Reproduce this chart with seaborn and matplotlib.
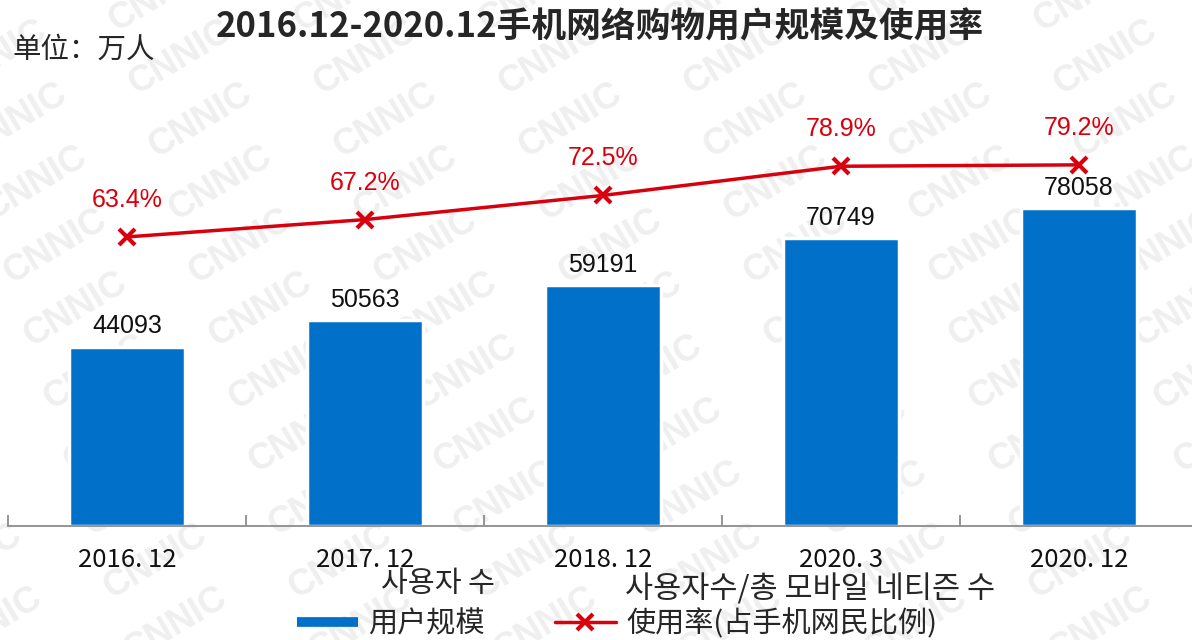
import matplotlib
matplotlib.use('Agg')
import matplotlib.pyplot as plt
import seaborn as sns
import numpy as np
import pandas as pd
from matplotlib.lines import Line2D
from matplotlib import patheffects as pe

categories = ['2016. 12', '2017. 12', '2018. 12', '2020. 3', '2020. 12']
users = [44093, 50563, 59191, 70749, 78058]
rates = [63.4, 67.2, 72.5, 78.9, 79.2]

title = '2016.12-2020.12手机网络购物用户规模及使用率'
unit_label = '单位：万人'
legend_bar = '用户规模'
legend_line = '使用率(占手机网民比例)'
kr_bar = '사용자 수'
kr_line = '사용자수/총 모바일 네티즌 수'
watermark = 'CNNIC'

sns.set_theme(style='white')
plt.rcParams['font.family'] = ['Noto Sans CJK SC', 'DejaVu Sans']

BLUE = '#0070C8'
RED = '#D9000D'

W, H = 1192, 640
fig = plt.figure(figsize=(W / 100, H / 100), dpi=100)

# faint background watermark tiled over the whole figure
for row in range(-3, 10):
    for k in range(-2, 8):
        cx = 200 + 20 * row + 185 * k
        cy = 120 + 63 * row
        if -40 <= cx <= W + 40 and -25 <= cy <= H + 25:
            fig.text(cx / W, 1 - cy / H, watermark, rotation=31,
                     ha='center', va='center', fontsize=26, fontweight='bold',
                     family=['Liberation Sans'], color='#efefef', zorder=-5)

ax = fig.add_axes([8/W, (H-526)/H, 1190/W, 466/H])
ax.patch.set_visible(False)
df = pd.DataFrame({'cat': categories, 'users': users, 'rate': rates})
sns.barplot(data=df, x='cat', y='users', color=BLUE, width=0.49, saturation=1,
            ax=ax, edgecolor='white', linewidth=2.5)
for p in ax.patches:
    p.set_path_effects([pe.SimplePatchShadow(offset=(1.5, -1.5), shadow_rgbFace='#999999', alpha=0.5), pe.Normal()])

ax.set_xlim(-0.5, 4.5)
ax.set_ylim(0, 114500)
for s in ['top', 'right', 'left']:
    ax.spines[s].set_visible(False)
ax.spines['bottom'].set_color('#8c8c8c')
ax.spines['bottom'].set_linewidth(1.3)
ax.set_yticks([])
ax.set_xticks(np.arange(-0.5, 5, 1), minor=True)
ax.tick_params(axis='x', which='both', bottom=True)
ax.tick_params(axis='x', which='major', length=0, pad=15, labelsize=18.5, labelcolor='#111111')
ax.tick_params(axis='x', which='minor', length=8, width=1.3, direction='in', color='#8c8c8c')
ax.set_xlabel('')
ax.set_ylabel('')

for i, v in enumerate(users):
    ax.text(i, v + 5000, f'{v}', ha='center', va='center', fontsize=18,
            family=['Liberation Sans'], color='#111111')

ax2 = ax.twinx()
ax2.patch.set_visible(False)
sns.lineplot(x=np.arange(len(rates)), y=rates, ax=ax2, color=RED, lw=2.5,
             marker='x', markersize=12, markeredgewidth=3, markeredgecolor=RED)
ax2.set_ylim(0, 102.2)
ax2.set_yticks([])
for s in ['top', 'right', 'left', 'bottom']:
    ax2.spines[s].set_visible(False)
for i, r in enumerate(rates):
    ax2.text(i, r + 8.1, f'{r}%', ha='center', va='center', fontsize=18,
             family=['Liberation Sans'], color=RED)

fig.text(600/W, 1 - 27/H, title, ha='center', va='center', fontsize=25, fontweight='bold')
fig.text(12/W, 1 - 50/H, unit_label, ha='left', va='center', fontsize=20.5)

handles = [Line2D([], [], color=BLUE, lw=7, solid_capstyle='butt'),
           Line2D([], [], color=RED, lw=2.5, marker='x', markersize=12, markeredgewidth=3)]
fig.legend(handles=handles, labels=[legend_bar, legend_line], ncol=2, loc='center',
           bbox_to_anchor=(617/W, 1 - 624/H), frameon=False, fontsize=21,
           handlelength=2.1, columnspacing=2.4, handletextpad=0.35)
fig.text(381/W, 1 - 584/H, kr_bar, ha='left', va='center', fontsize=21,
         family=['Noto Sans CJK KR', 'DejaVu Sans'])
fig.text(625/W, 1 - 590/H, kr_line, ha='left', va='center', fontsize=22,
         family=['Noto Sans CJK KR', 'DejaVu Sans'])

fig.savefig('out.png', dpi=100)
